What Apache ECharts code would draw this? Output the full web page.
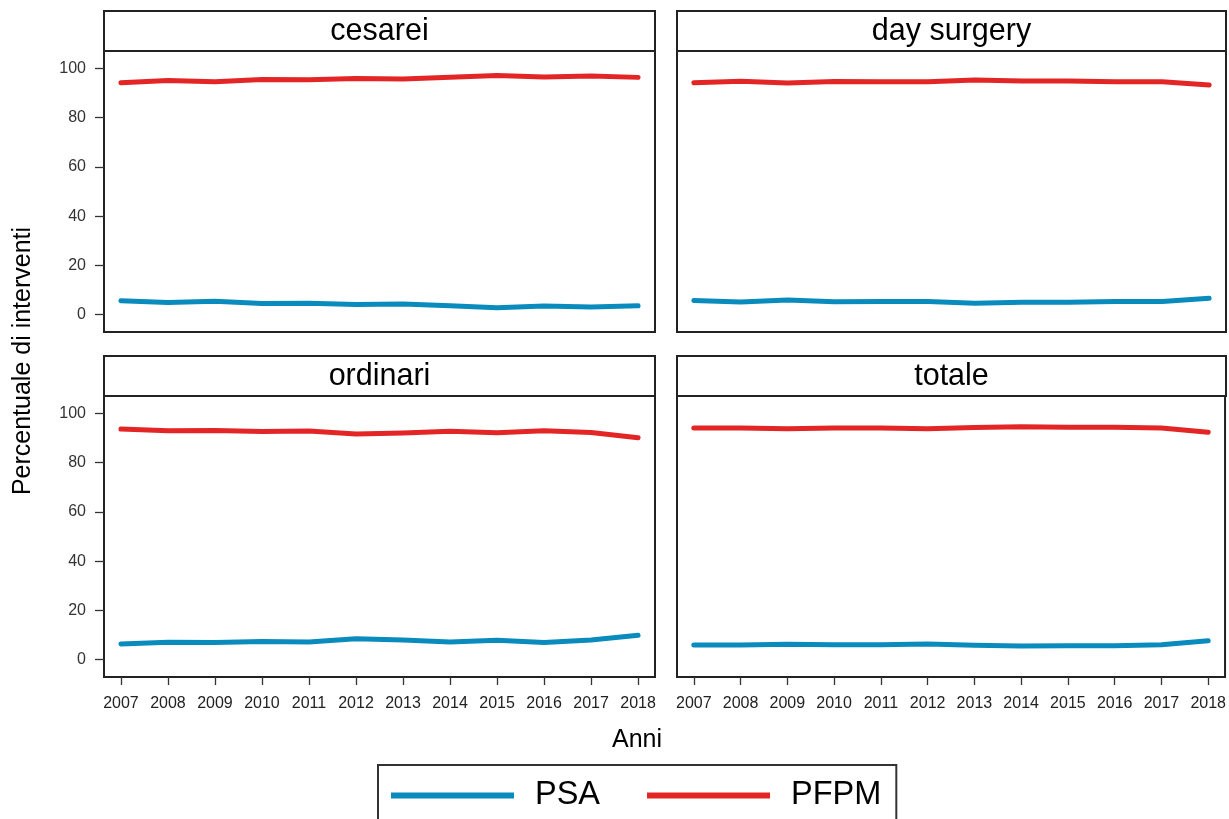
<!DOCTYPE html>
<html>
<head>
<meta charset="utf-8">
<script src="https://cdn.jsdelivr.net/npm/echarts@6/dist/echarts.min.js"></script>
<style>
html,body{margin:0;padding:0;background:#fff;}
#chart{width:1229px;height:819px;}
</style>
</head>
<body>
<div id="chart"></div>
<script>
const years = [2007, 2008, 2009, 2010, 2011, 2012, 2013, 2014, 2015, 2016, 2017, 2018];
const yTicks = [0, 20, 40, 60, 80, 100];
const panels = ['cesarei', 'day surgery', 'ordinari', 'totale'];
const seriesNames = ['PSA', 'PFPM'];

const cesareiPSA  = [5.7, 5.0, 5.5, 4.6, 4.7, 4.2, 4.4, 3.6, 2.8, 3.5, 3.1, 3.6];
const cesareiPFPM = [94.1, 95.0, 94.5, 95.4, 95.3, 95.8, 95.6, 96.4, 97.1, 96.5, 96.9, 96.3];
const daySurgeryPSA  = [5.8, 5.2, 6.0, 5.3, 5.4, 5.4, 4.7, 5.1, 5.1, 5.4, 5.4, 6.7];
const daySurgeryPFPM = [94.1, 94.7, 94.0, 94.6, 94.5, 94.5, 95.2, 94.8, 94.8, 94.5, 94.5, 93.2];
const ordinariPSA  = [6.4, 7.1, 7.0, 7.4, 7.2, 8.5, 8.0, 7.2, 7.9, 7.0, 8.0, 9.9];
const ordinariPFPM = [93.6, 92.9, 93.0, 92.6, 92.8, 91.6, 92.0, 92.7, 92.1, 92.9, 92.2, 90.1];
const totalePSA  = [6.0, 6.0, 6.3, 6.1, 6.1, 6.4, 5.9, 5.6, 5.7, 5.7, 6.1, 7.7];
const totalePFPM = [94.0, 94.0, 93.7, 94.0, 94.0, 93.7, 94.2, 94.5, 94.3, 94.3, 94.0, 92.3];

const panelData = [
  [cesareiPSA, cesareiPFPM],
  [daySurgeryPSA, daySurgeryPFPM],
  [ordinariPSA, ordinariPFPM],
  [totalePSA, totalePFPM]
];

const colors = ['#0A8BBE', '#E42526'];
const FONT = 'Liberation Sans, Arial, sans-serif';

const gridPos = [
  {left: 104, top: 51, width: 551, height: 281},
  {left: 677, top: 51, width: 549, height: 281},
  {left: 104, top: 396, width: 551, height: 281},
  {left: 677, top: 396, width: 549, height: 281}
];

const grids = gridPos.map(g => Object.assign({
  show: true, borderColor: '#222', borderWidth: 2, backgroundColor: '#fff'
}, g));

const xAxes = gridPos.map((g, i) => ({
  type: 'value', gridIndex: i, min: 2006.64, max: 2018.36, position: 'bottom',
  axisLine: {show: false, onZero: false},
  splitLine: {show: false},
  axisTick: {show: i >= 2, customValues: years, length: 8, lineStyle: {color: '#333', width: 1.3}},
  axisLabel: {show: i >= 2, customValues: years, formatter: v => String(v), color: '#222',
    fontSize: 16, fontFamily: FONT, margin: 19}
}));

const yAxes = gridPos.map((g, i) => ({
  type: 'value', gridIndex: i, min: -7, max: 107, position: 'left',
  axisLine: {show: false, onZero: false},
  splitLine: {show: false},
  axisTick: {show: i % 2 === 0, customValues: yTicks, length: 9, lineStyle: {color: '#333', width: 1.3}},
  axisLabel: {show: i % 2 === 0, customValues: yTicks, color: '#333',
    fontSize: 16, fontFamily: FONT, margin: 18}
}));

const series = [];
panelData.forEach((pair, i) => {
  pair.forEach((arr, k) => {
    series.push({
      type: 'line', name: seriesNames[k], xAxisIndex: i, yAxisIndex: i,
      data: years.map((y, j) => [y, arr[j]]),
      showSymbol: false, symbol: 'none',
      lineStyle: {color: colors[k], width: 5, cap: 'round', join: 'round'},
      itemStyle: {color: colors[k]},
      z: 3
    });
  });
});

const graphics = [];
gridPos.forEach((g, i) => {
  graphics.push({
    type: 'rect', silent: true, z: 10,
    shape: {x: g.left, y: g.top - 40, width: g.width, height: 40},
    style: {fill: '#fff', stroke: '#222', lineWidth: 2}
  });
  graphics.push({
    type: 'text', silent: true, z: 11,
    x: g.left + g.width / 2, y: g.top - 19,
    style: {text: panels[i], fill: '#000', font: '30.5px ' + FONT, textAlign: 'center', textVerticalAlign: 'middle'}
  });
});
graphics.push({
  type: 'text', silent: true, z: 11, x: 23, y: 361, rotation: Math.PI / 2,
  style: {text: 'Percentuale di interventi', fill: '#000', font: '25px ' + FONT, textAlign: 'center', textVerticalAlign: 'middle'}
});
graphics.push({
  type: 'text', silent: true, z: 11, x: 637, y: 740,
  style: {text: 'Anni', fill: '#000', font: '25px ' + FONT, textAlign: 'center', textVerticalAlign: 'middle'}
});

const chart = echarts.init(document.getElementById('chart'), null, {renderer: 'canvas'});
chart.setOption({
  animation: false,
  backgroundColor: '#fff',
  grid: grids,
  xAxis: xAxes,
  yAxis: yAxes,
  series: series,
  legend: {
    data: seriesNames,
    left: 378, top: 765,
    icon: 'rect', itemWidth: 123, itemHeight: 6, itemGap: 47,
    padding: [14, 15, 30, 13],
    borderColor: '#333', borderWidth: 2,
    textStyle: {color: '#000', fontSize: 32.5, fontFamily: FONT, padding: [0, 0, 0, 16]}
  },
  graphic: graphics
});
</script>
</body>
</html>
